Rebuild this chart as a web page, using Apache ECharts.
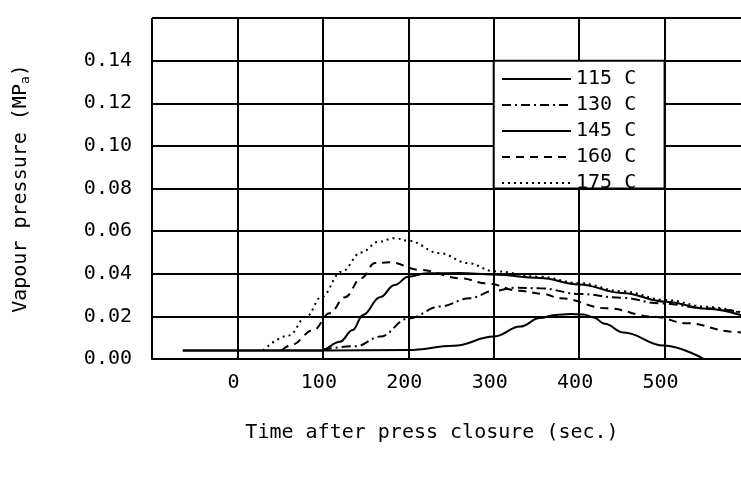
<!DOCTYPE html>
<html>
<head>
<meta charset="utf-8">
<script src="https://cdn.jsdelivr.net/npm/echarts@6/dist/echarts.min.js"></script>
<style>html,body{margin:0;padding:0;background:#fff;}#c{width:741px;height:482px;}</style>
</head>
<body>
<div id="c"></div>
<script>
// Series data: time after press closure (sec.) and vapour pressure (MPa)
const t115 = [-64, 100, 200, 253, 300, 331, 354, 372, 390, 405, 417, 430, 452, 499, 546];
const p115 = [0.004, 0.004, 0.0042, 0.0062, 0.0105, 0.0152, 0.0192, 0.0207, 0.0211, 0.0209, 0.0195, 0.0165, 0.0124, 0.0063, 0.0];

const t130 = [100, 139, 167, 200, 237, 272, 300, 325, 354, 401, 450, 495, 550, 590];
const p130 = [0.0045, 0.006, 0.0105, 0.019, 0.0246, 0.0285, 0.032, 0.0334, 0.0332, 0.0305, 0.0287, 0.0261, 0.0238, 0.0219];

const t145 = [-64, 98, 120, 135, 147, 167, 184, 200, 221, 260, 300, 354, 400, 450, 501, 550, 590];
const p145 = [0.004, 0.004, 0.0081, 0.0136, 0.0207, 0.029, 0.0347, 0.0386, 0.0402, 0.0403, 0.0396, 0.038, 0.035, 0.031, 0.0269, 0.0236, 0.0205];

const t160 = [52, 63, 89, 108, 126, 145, 161, 178, 214, 261, 292, 330, 358, 378, 432, 487, 526, 581, 590];
const p160 = [0.004, 0.0066, 0.0136, 0.0215, 0.029, 0.038, 0.045, 0.0454, 0.0418, 0.0379, 0.0355, 0.032, 0.0305, 0.0285, 0.0238, 0.0199, 0.0168, 0.0128, 0.0124];

const t175 = [30, 60, 81, 98, 122, 145, 165, 184, 200, 237, 270, 300, 354, 400, 450, 501, 550, 590];
const p175 = [0.004, 0.011, 0.020, 0.029, 0.041, 0.050, 0.055, 0.0567, 0.0555, 0.0496, 0.045, 0.0412, 0.0386, 0.0356, 0.0318, 0.0277, 0.0245, 0.0215];

const seriesNames = ['115 C', '130 C', '145 C', '160 C', '175 C'];
const xTitle = 'Time after press closure (sec.)';
const yTitle = 'Vapour pressure (MP{sub|a})';
const xMin = -100, xMax = 600, xStep = 100;
const yMin = 0, yMax = 0.16, yStep = 0.02;
// legend box spans these grid cells
const legendBoxFrom = [300, 0.14];
const legendBoxTo = [500, 0.08];

const FONT = 'DejaVu Sans Mono';
const pair = (t, p) => t.map((v, i) => [v, p[i]]);

const lineTypes = ['solid', [9, 4, 2, 4], 'solid', [8, 6], [2, 4]];
const allData = [pair(t115, p115), pair(t130, p130), pair(t145, p145), pair(t160, p160), pair(t175, p175)];

const series = seriesNames.map((name, i) => ({
  name: name,
  type: 'line',
  data: allData[i],
  symbol: 'none',
  smooth: 0.4,
  smoothMonotone: 'x',
  lineStyle: { color: '#000', width: 2, type: lineTypes[i] },
  itemStyle: { color: '#000' }
}));
series[0].markArea = {
  silent: true,
  itemStyle: { color: '#fff', borderColor: '#000', borderWidth: 2 },
  label: { show: false },
  data: [[{ coord: legendBoxFrom }, { coord: legendBoxTo }]]
};

const chart = echarts.init(document.getElementById('c'));
chart.setOption({
  backgroundColor: '#fff',
  animation: false,
  grid: { left: 152, top: 18, bottom: 123, width: 598, containLabel: false, outerBoundsMode: 'none' },
  legend: {
    data: seriesNames,
    orient: 'vertical',
    left: 501,
    top: 69,
    padding: 0,
    itemWidth: 69,
    itemHeight: 14,
    itemGap: 6,
    itemStyle: { opacity: 0 },
    textStyle: { fontFamily: FONT, fontSize: 20, color: '#000' }
  },
  xAxis: {
    type: 'value',
    min: xMin, max: xMax, interval: xStep,
    name: xTitle,
    nameLocation: 'middle',
    nameGap: 64,
    nameTextStyle: { fontFamily: FONT, fontSize: 20, color: '#000', padding: [0, 38, 0, 0] },
    axisLine: { show: true, lineStyle: { color: '#000', width: 2 } },
    axisTick: { show: false },
    splitLine: { show: true, lineStyle: { color: '#000', width: 2 } },
    axisLabel: {
      showMinLabel: false, showMaxLabel: false,
      margin: 14,
      padding: [0, 8, 0, 0],
      fontFamily: FONT, fontSize: 20, color: '#000'
    }
  },
  yAxis: {
    type: 'value',
    min: yMin, max: yMax, interval: yStep,
    name: yTitle,
    nameLocation: 'middle',
    nameGap: 120,
    nameRotate: 90,
    nameTextStyle: {
      fontFamily: FONT, fontSize: 20, color: '#000',
      rich: { sub: { fontFamily: FONT, fontSize: 13, color: '#000', padding: [10, 0, 0, 0] } }
    },
    axisLine: { show: true, lineStyle: { color: '#000', width: 2 } },
    axisTick: { show: false },
    splitLine: { show: true, lineStyle: { color: '#000', width: 2 } },
    axisLabel: {
      showMaxLabel: false,
      margin: 20,
      fontFamily: FONT, fontSize: 20, color: '#000',
      formatter: v => v.toFixed(2)
    }
  },
  series: series
});
</script>
</body>
</html>
